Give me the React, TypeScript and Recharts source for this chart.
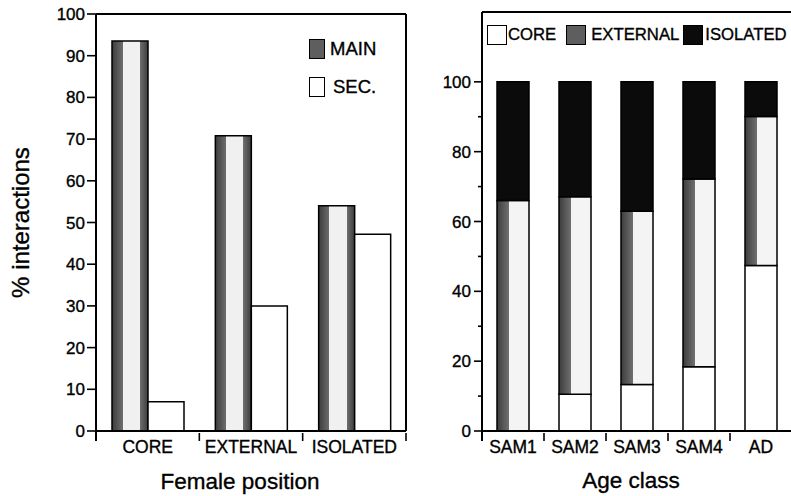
import React from 'react';
import { BarChart, Bar, XAxis, YAxis, ReferenceLine, Legend } from 'recharts';

// ---------- Left panel data ----------
const positions = ['CORE', 'EXTERNAL', 'ISOLATED'];
const mainValues = [93.5, 70.8, 54];
const secValues = [7, 30, 47.2];
const leftYTicks = [0, 10, 20, 30, 40, 50, 60, 70, 80, 90, 100];
const leftSeries = ['MAIN', 'SEC.'];

// ---------- Right panel data ----------
const ageClasses = ['SAM1', 'SAM2', 'SAM3', 'SAM4', 'AD'];
const coreShare = [0, 10.5, 13.3, 18.4, 47.4];
const externalShare = [66, 56.6, 49.6, 53.8, 42.7];
const isolatedShare = [34, 32.9, 37.1, 27.8, 9.9];
const rightYTicks = [0, 10, 20, 30, 40, 50, 60, 70, 80, 90, 100];
const rightSeries = ['CORE', 'EXTERNAL', 'ISOLATED'];

const leftData = positions.map((p, i) => ({ position: p, MAIN: mainValues[i], SEC: secValues[i] }));
const rightData = ageClasses.map((a, i) => ({
  age: a,
  CORE: coreShare[i],
  EXTERNAL: externalShare[i],
  ISOLATED: isolatedShare[i],
}));

const FONT = '"Liberation Sans", Arial, Helvetica, sans-serif';
const GRAY = '#5e5e5e';
const BLACK = '#0b0b0b';
const TEXT_STROKE = 0.35;

const makeXTick = (fontSize: number, len: number) => (props: any) => {
  const { x, y, payload, index } = props;
  const off = payload && typeof payload.offset === 'number' ? payload.offset : 0;
  return (
    <g>
      {index === 0 && (
        <line x1={x - off} y1={y} x2={x - off} y2={y + len} stroke="#000" strokeWidth={2} />
      )}
      <line x1={x + off} y1={y + 2} x2={x + off} y2={y + len} stroke="#000" strokeWidth={1.6} />
      <text
        x={x}
        y={y + 22}
        textAnchor="middle"
        fontSize={fontSize}
        fill="#000"
        stroke="#000"
        strokeWidth={TEXT_STROKE}
        fontFamily={FONT}
      >
        {payload.value}
      </text>
    </g>
  );
};

const Y_TICK_SIZE = 8;
const Y_TICK_MARGIN = 3;

const LeftYTick = (props: any) => {
  const { x, y, payload } = props;
  return (
    <text x={x} y={y} dy={6} textAnchor="end" fontSize={17} fill="#000" stroke="#000" strokeWidth={TEXT_STROKE} fontFamily={FONT}>
      {payload.value}
    </text>
  );
};

const RightYTick = (props: any) => {
  const { x, y, payload } = props;
  const axisX = x + Y_TICK_SIZE + Y_TICK_MARGIN;
  const major = payload.value % 20 === 0;
  return (
    <g>
      <line x1={axisX - (major ? 8 : 4)} y1={y} x2={axisX} y2={y} stroke="#000" strokeWidth={1.6} />
      {major && (
        <text x={x} y={y} dy={6} textAnchor="end" fontSize={17} fill="#000" stroke="#000" strokeWidth={TEXT_STROKE} fontFamily={FONT}>
          {payload.value}
        </text>
      )}
    </g>
  );
};

const legendTextStyle = { WebkitTextStroke: '0.35px #000', lineHeight: '20px' } as React.CSSProperties;

const LeftLegend = () => (
  <div style={{ fontFamily: FONT, fontSize: 18.5, color: '#000' }}>
    {leftSeries.map((s, i) => (
      <div key={s} style={{ display: 'flex', alignItems: 'center', height: 20, marginBottom: i === 0 ? 18 : 0 }}>
        <div
          style={{
            width: 14,
            height: 18,
            border: '1.5px solid #000',
            background: i === 0 ? GRAY : '#fff',
          }}
        />
        <span style={{ ...legendTextStyle, marginLeft: i === 0 ? 5 : 8 }}>{s}</span>
      </div>
    ))}
  </div>
);

const rightSwatch = ['#fff', GRAY, BLACK];
const rightTextGap = [1, 5, 2];
const rightItemGap = [10, 4, 0];

const RightLegend = () => (
  <div style={{ fontFamily: FONT, fontSize: 16.7, color: '#000', display: 'flex', alignItems: 'center' }}>
    {rightSeries.map((s, i) => (
      <div key={s} style={{ display: 'flex', alignItems: 'center', marginRight: rightItemGap[i] }}>
        <div style={{ width: 18, height: 18, border: '1.5px solid #000', background: rightSwatch[i] }} />
        <span style={{ ...legendTextStyle, marginLeft: rightTextGap[i] }}>{s}</span>
      </div>
    ))}
  </div>
);

export default function App() {
  return (
    <div
      style={{
        position: 'absolute',
        left: 0,
        top: 0,
        width: 791,
        height: 496,
        overflow: 'hidden',
        background: '#fff',
        fontFamily: FONT,
      }}
    >
      <div style={{ position: 'absolute', left: 0, top: 0 }}>
        <BarChart
          width={420}
          height={496}
          data={leftData}
          margin={{ top: 14, right: 0, bottom: 0, left: 0 }}
          barGap={0}
          barSize={36}
        >
          <defs>
            <linearGradient id="mainFill" x1="0" y1="0" x2="1" y2="0">
              <stop offset="0" stopColor="#3c3c3c" />
              <stop offset="0.3" stopColor="#6e6e6e" />
              <stop offset="0.3" stopColor="#f0f0f0" />
              <stop offset="0.78" stopColor="#f0f0f0" />
              <stop offset="0.78" stopColor="#6e6e6e" />
              <stop offset="1" stopColor="#3c3c3c" />
            </linearGradient>
          </defs>
          <XAxis
            dataKey="position"
            height={65}
            interval={0}
            tickLine={false}
            tickSize={0}
            tickMargin={0}
            axisLine={{ stroke: '#000', strokeWidth: 2 }}
            tick={makeXTick(17.5, 10)}
            label={(p: any) => {
              const vb = p.viewBox;
              return (
                <text
                  x={vb.x + vb.width / 2 - 11}
                  y={vb.y + 58}
                  textAnchor="middle"
                  fontSize={22.5}
                  fill="#000"
                  stroke="#000"
                  strokeWidth={TEXT_STROKE}
                  fontFamily={FONT}
                >
                  Female position
                </text>
              );
            }}
          />
          <YAxis
            width={96}
            domain={[0, 100]}
            ticks={leftYTicks}
            interval={0}
            tickSize={9}
            tickMargin={2}
            tickLine={{ stroke: '#000', strokeWidth: 1.6 }}
            axisLine={{ stroke: '#000', strokeWidth: 2 }}
            tick={<LeftYTick />}
            label={(p: any) => {
              const vb = p.viewBox;
              const cx = vb.x + 20;
              const cy = vb.y + vb.height / 2;
              return (
                <text
                  x={cx}
                  y={cy}
                  transform={`rotate(-90 ${cx} ${cy})`}
                  textAnchor="middle"
                  dominantBaseline="central"
                  fontSize={24}
                  fill="#000"
                  stroke="#000"
                  strokeWidth={TEXT_STROKE}
                  fontFamily={FONT}
                >
                  % interactions
                </text>
              );
            }}
          />
          <YAxis
            yAxisId="frame"
            orientation="right"
            width={14}
            domain={[0, 100]}
            tick={false}
            tickLine={false}
            axisLine={{ stroke: '#000', strokeWidth: 2 }}
          />
          <ReferenceLine y={100} stroke="#000" strokeWidth={2} />
          <Bar dataKey="MAIN" fill="url(#mainFill)" stroke="#000" strokeWidth={1.5} isAnimationActive={false} />
          <Bar dataKey="SEC" fill="#fff" stroke="#000" strokeWidth={1.5} isAnimationActive={false} />
          <Legend
            layout="horizontal"
            verticalAlign="middle"
            align="center"
            wrapperStyle={{ top: 39, left: 309, width: 'auto', height: 'auto' }}
            content={() => <LeftLegend />}
          />
        </BarChart>
      </div>

      <div style={{ position: 'absolute', left: 420, top: 0 }}>
        <BarChart
          width={380}
          height={496}
          data={rightData}
          margin={{ top: 12, right: 8, bottom: 0, left: 0 }}
          barSize={32}
        >
          <defs>
            <linearGradient id="extFill" x1="0" y1="0" x2="1" y2="0">
              <stop offset="0" stopColor="#3c3c3c" />
              <stop offset="0.36" stopColor="#6e6e6e" />
              <stop offset="0.36" stopColor="#f4f4f4" />
              <stop offset="1" stopColor="#f4f4f4" />
            </linearGradient>
          </defs>
          <XAxis
            dataKey="age"
            height={65}
            interval={0}
            tickLine={false}
            tickSize={0}
            tickMargin={0}
            axisLine={{ stroke: '#000', strokeWidth: 2 }}
            tick={makeXTick(17.5, 10)}
            label={(p: any) => {
              const vb = p.viewBox;
              return (
                <text
                  x={vb.x + vb.width / 2 - 6}
                  y={vb.y + 57}
                  textAnchor="middle"
                  fontSize={22.5}
                  fill="#000"
                  stroke="#000"
                  strokeWidth={TEXT_STROKE}
                  fontFamily={FONT}
                >
                  Age class
                </text>
              );
            }}
          />
          <YAxis
            width={62}
            domain={[0, 120]}
            ticks={rightYTicks}
            interval={0}
            tickSize={Y_TICK_SIZE}
            tickMargin={Y_TICK_MARGIN}
            tickLine={false}
            axisLine={{ stroke: '#000', strokeWidth: 2 }}
            tick={<RightYTick />}
          />
          <ReferenceLine y={120} stroke="#000" strokeWidth={2} />
          <Bar dataKey="CORE" stackId="a" fill="#fff" stroke="#000" strokeWidth={1.5} isAnimationActive={false} />
          <Bar dataKey="EXTERNAL" stackId="a" fill="url(#extFill)" stroke="#000" strokeWidth={1.5} isAnimationActive={false} />
          <Bar dataKey="ISOLATED" stackId="a" fill={BLACK} stroke="#000" strokeWidth={1.5} isAnimationActive={false} />
          <Legend
            layout="horizontal"
            verticalAlign="middle"
            align="center"
            wrapperStyle={{ top: 25, left: 67, width: 'auto', height: 'auto' }}
            content={() => <RightLegend />}
          />
        </BarChart>
      </div>
    </div>
  );
}
